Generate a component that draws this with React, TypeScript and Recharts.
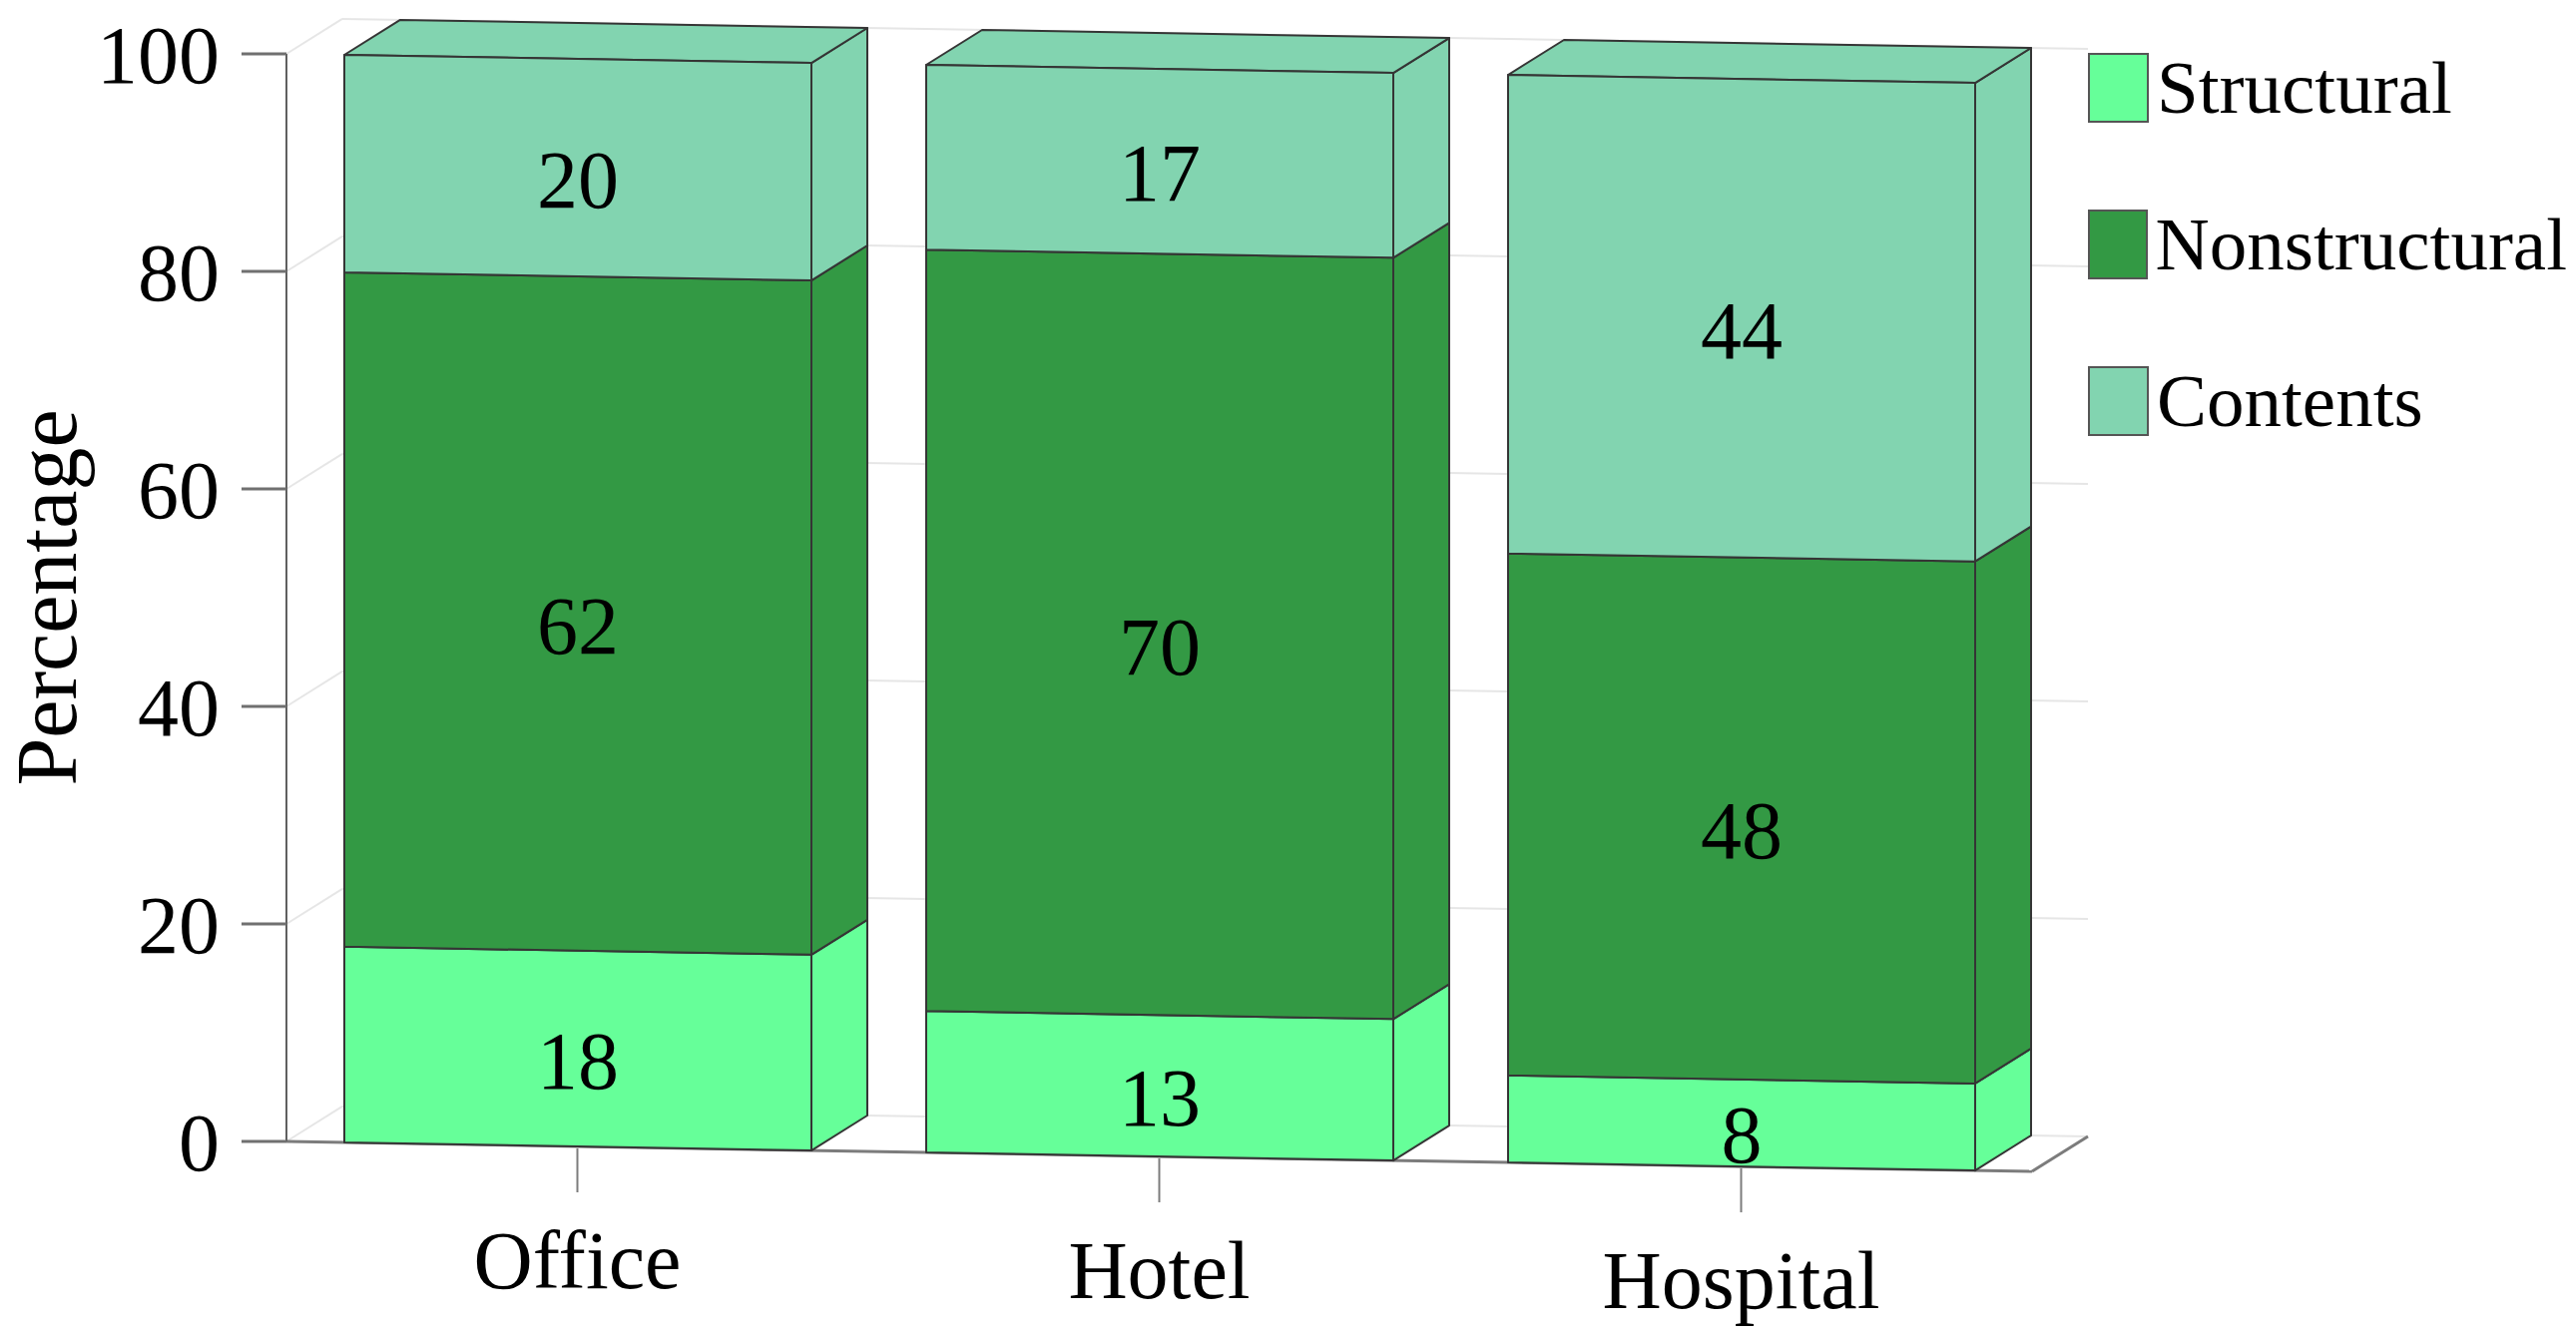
import { BarChart, Bar, XAxis, YAxis, CartesianGrid, Legend, LabelList } from "recharts";

const categories = ["Office", "Hotel", "Hospital"];
const seriesNames = ["Structural", "Nonstructural", "Contents"];
const structural = [18, 13, 8];
const nonstructural = [62, 70, 48];
const contents = [20, 17, 44];
const yTicks = [0, 20, 40, 60, 80, 100];

const data = categories.map((name, i) => ({
  name,
  Structural: structural[i],
  Nonstructural: nonstructural[i],
  Contents: contents[i],
}));

const FONT = '"Liberation Serif", "Times New Roman", serif';
const PLOT_LEFT = 287;
const PLOT_BOTTOM = 1144;
// fake 3d: slight downward tilt to the right plus a depth offset
const SHEAR = 0.0172;
const DX = 56;
const DY = -36;
const EDGE = "#353535";
const GRID = "#e6e6e6";
const FLOOR = "#7c7c7c";

const sy = (x: number, y: number) => y + SHEAR * (x - PLOT_LEFT);
const poly = (pts: number[][]) => pts.map(([x, y]) => `${x},${sy(x, y)}`).join(" ");

function makeBlock(withTop: boolean) {
  return (props: any) => {
    const { x, y, width: w, height: h, fill } = props;
    if (w == null || h == null || !isFinite(h)) return null;
    const r = x + w;
    const b = y + h;
    const side = poly([[r, y], [r + DX, y + DY], [r + DX, b + DY], [r, b]]);
    const front = poly([[x, y], [r, y], [r, b], [x, b]]);
    const top = poly([[x, y], [x + DX, y + DY], [r + DX, y + DY], [r, y]]);
    return (
      <g>
        <polygon points={side} fill={fill} stroke={EDGE} strokeWidth={2} strokeLinejoin="round" />
        {withTop && <polygon points={top} fill={fill} stroke={EDGE} strokeWidth={2} strokeLinejoin="round" />}
        <polygon points={front} fill={fill} stroke={EDGE} strokeWidth={2} strokeLinejoin="round" />
      </g>
    );
  };
}

function gridLine(props: any) {
  const { x1, x2, y1, index } = props;
  const bx1 = x1 + DX;
  const bx2 = x2 + DX;
  const by = y1 + DY;
  const isFloor = Math.abs(y1 - PLOT_BOTTOM) < 1;
  return (
    <g key={`grid-${index}`}>
      <line x1={x1} y1={sy(x1, y1)} x2={bx1} y2={sy(bx1, by)} stroke={GRID} strokeWidth={2} />
      <line x1={bx1} y1={sy(bx1, by)} x2={bx2} y2={sy(bx2, by)} stroke={GRID} strokeWidth={2} />
      {isFloor && (
        <>
          <line x1={x1} y1={sy(x1, y1)} x2={x2} y2={sy(x2, y1)} stroke={FLOOR} strokeWidth={3} />
          <line x1={x2} y1={sy(x2, y1)} x2={bx2} y2={sy(bx2, by)} stroke={FLOOR} strokeWidth={3} />
        </>
      )}
    </g>
  );
}

function CategoryTick(props: any) {
  const { x, y, payload } = props;
  const top = sy(x, y);
  return (
    <g>
      <line x1={x} y1={top + 2} x2={x} y2={top + 46} stroke="#7c7c7c" strokeWidth={2} />
      <text x={x} y={top + 142} textAnchor="middle" fontSize={82} fontFamily={FONT} fill="#000">
        {payload.value}
      </text>
    </g>
  );
}

function SegmentLabel(props: any) {
  const vb = props.viewBox && props.viewBox.width != null ? props.viewBox : props;
  const { x, y, width, height } = vb;
  if (x == null || width == null) return null;
  const cx = x + width / 2;
  const cy = sy(cx, y + height / 2) + 11;
  return (
    <text x={cx} y={cy} dy="0.35em" textAnchor="middle" fontSize={82} fontFamily={FONT} fill="#000">
      {props.value}
    </text>
  );
}

function YLabel(props: any) {
  const vb = props.viewBox || { x: 0, y: 54, width: 287, height: 1090 };
  const bx = vb.x + 76;
  const cy = vb.y + vb.height / 2;
  return (
    <text x={bx} y={cy} transform={`rotate(-90, ${bx}, ${cy})`} textAnchor="middle" fontSize={86} fontFamily={FONT} fill="#000">
      Percentage
    </text>
  );
}

function LegendBoxes(props: any) {
  const items = [...(props.payload || [])].sort(
    (a: any, b: any) => seriesNames.indexOf(a.value) - seriesNames.indexOf(b.value)
  );
  return (
    <div style={{ fontFamily: FONT }}>
      {items.map((item: any, i: number) => (
        <div
          key={item.value}
          style={{ display: "flex", alignItems: "center", height: 70, marginBottom: i < items.length - 1 ? 87 : 0 }}
        >
          <div
            style={{
              width: 61,
              height: 70,
              boxSizing: "border-box",
              background: item.color,
              border: "2px solid #555",
            }}
          />
          <span style={{ fontSize: 75, marginLeft: 8, lineHeight: "70px", color: "#000", whiteSpace: "nowrap" }}>
            {item.value}
          </span>
        </div>
      ))}
    </div>
  );
}

export default function App() {
  return (
    <div style={{ position: "absolute", left: 0, top: 0, width: 2581, height: 1337, background: "#fff" }}>
      <BarChart width={2581} height={1337} data={data} margin={{ top: 54, right: 545, bottom: 43, left: 0 }}>
        <CartesianGrid vertical={false} horizontal={gridLine} />
        <XAxis
          dataKey="name"
          axisLine={false}
          tickLine={false}
          tickSize={0}
          tickMargin={0}
          height={150}
          interval={0}
          tick={<CategoryTick />}
        />
        <YAxis
          width={287}
          domain={[0, 100]}
          ticks={yTicks}
          interval={0}
          tickSize={45}
          tickMargin={22}
          axisLine={{ stroke: "#606060", strokeWidth: 2 }}
          tickLine={{ stroke: "#707070", strokeWidth: 3 }}
          tick={{ fontSize: 82, fill: "#000", fontFamily: FONT }}
          label={YLabel}
        />
        <Legend
          layout="vertical"
          align="center"
          verticalAlign="middle"
          wrapperStyle={{ left: 2092, top: 53, width: 480 }}
          content={LegendBoxes}
        />
        <Bar dataKey="Structural" stackId="a" fill="#66FF99" barSize={468} isAnimationActive={false} shape={makeBlock(false)}>
          <LabelList dataKey="Structural" content={SegmentLabel} />
        </Bar>
        <Bar dataKey="Nonstructural" stackId="a" fill="#339944" barSize={468} isAnimationActive={false} shape={makeBlock(false)}>
          <LabelList dataKey="Nonstructural" content={SegmentLabel} />
        </Bar>
        <Bar dataKey="Contents" stackId="a" fill="#82D4B0" barSize={468} isAnimationActive={false} shape={makeBlock(true)}>
          <LabelList dataKey="Contents" content={SegmentLabel} />
        </Bar>
      </BarChart>
    </div>
  );
}
